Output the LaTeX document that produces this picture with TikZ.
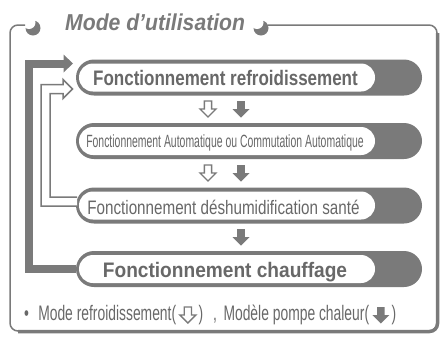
\documentclass[tikz,border=0pt]{standalone}
\usepackage{fontspec}
\setmainfont{Liberation Sans}
\usetikzlibrary{calc,shapes.misc}
\definecolor{fg}{RGB}{122,122,122}
\definecolor{tx}{RGB}{104,104,104}
\newcommand\sqz[3]{\scalebox{#1}[1]{\fontsize{#2pt}{#2pt}\selectfont #3}}
\tikzset{
  pics/hollowarrow/.style={code={\filldraw[draw=fg,fill=white,line width=1.4pt,line join=miter] (-3.6,-8) -- (3.6,-8) -- (3.6,0) -- (8,0) -- (0,8) -- (-8,0) -- (-3.6,0) -- cycle;}},
  pics/solidarrow/.style={code={\fill[fg] (-3.8,-8) -- (3.8,-8) -- (3.8,0) -- (8.5,0) -- (0,8.5) -- (-8.5,0) -- (-3.8,0) -- cycle;}},
  pillwhite/.style={shape=rounded rectangle, fill=white, minimum width=296pt, minimum height=28pt, inner sep=0pt},
  lbl/.style={text=tx, inner sep=0pt, anchor=base},
  framethin/.style={draw=fg, line width=1.5pt, rounded corners=8pt},
  framethick/.style={draw=fg, line width=3.5pt, rounded corners=8pt},
}
\begin{document}
\begin{tikzpicture}[x=1pt,y=-1pt]
\useasboundingbox (0,0) rectangle (442,338);
% crescents
\fill[fg] (33,28) circle (7.5); \fill[white] (29,22.5) circle (6.5);
\fill[fg] (261,28) circle (7.5); \fill[white] (257,22.5) circle (6.5);
% frame
\draw[framethin] (25,25) -| (10,331) -| (437,25) -- (268,25);
\draw[framethick] (437.5,33) -- (437.5,331.5) -- (18,331.5);
% title
\node[anchor=base west, inner sep=0pt, text=fg] (title) at (65,30) {\sqz{0.92}{23}{\bfseries\itshape Mode d'utilisation}};
% pills
\foreach \yy in {77.5,141,205.5,269} {\fill[fg, rounded corners=18pt] (76,\yy-18) rectangle (422,\yy+18);}
\node[pillwhite] (b1) at (227,77.5) {};
\node[pillwhite] (b2) at (227,141) {};
\node[pillwhite] (b3) at (227,205.5) {};
\node[pillwhite] (b4) at (227,269) {};
\node[lbl] (t1) at (225.5,85) {\sqz{0.81}{21}{\bfseries Fonctionnement refroidissement}};
\node[lbl] (t2) at (225,147) {\sqz{0.59}{17.7}{Fonctionnement Automatique ou Commutation Automatique}};
\node[lbl] (t3) at (223.5,214) {\sqz{0.78}{19.5}{Fonctionnement déshumidification santé}};
\node[lbl] (t4) at (225,277) {\sqz{0.91}{21}{\bfseries Fonctionnement chauffage}};
% down arrows
\pic at (208,109) {hollowarrow}; \pic at (241,109) {solidarrow};
\pic at (208,173) {hollowarrow}; \pic at (241,173) {solidarrow};
\pic at (241,237) {solidarrow};
% thick feedback arrow
\draw[fg, line width=8pt] ($(b4.west)+(-2.5,0)$) -- (29,269) -- (29,63.5) -- (64.5,63.5);
\fill[fg] (63.5,54.5) -- (73,63.5) -- (63.5,72.5) -- cycle;
% hollow feedback arrow
\fill[white] (77,197) -- (50,197) -- (50,93.5) -- (63,93.5) -- (63,98.5) -- (72.5,89) -- (63,79.5) -- (63,84.5) -- (41,84.5) -- (41,206) -- (77,206) -- cycle;
\draw[fg, line width=1.5pt] (77,197) -- (50,197) -- (50,93.5) -- (63,93.5) -- (63,98.5) -- (72.5,89) -- (63,79.5) -- (63,84.5) -- (41,84.5) -- (41,206) -- (77,206);
% legend
\node[lbl, anchor=base west] (l1) at (24,320) {\sqz{0.66}{21}{•\hspace{14pt}Mode refroidissement(}};
\pic at ($(l1.base east)+(11.5,-5)$) {hollowarrow};
\node[lbl, anchor=base west] (l2) at ($(l1.base east)+(22,0)$) {\sqz{0.66}{21}{)\hspace{15pt},\hspace{10pt}Modèle pompe chaleur(}};
\pic at ($(l2.base east)+(11.5,-5)$) {solidarrow};
\node[lbl, anchor=base west] (l3) at ($(l2.base east)+(22,0)$) {\sqz{0.66}{21}{)}};
\end{tikzpicture}
\end{document}
